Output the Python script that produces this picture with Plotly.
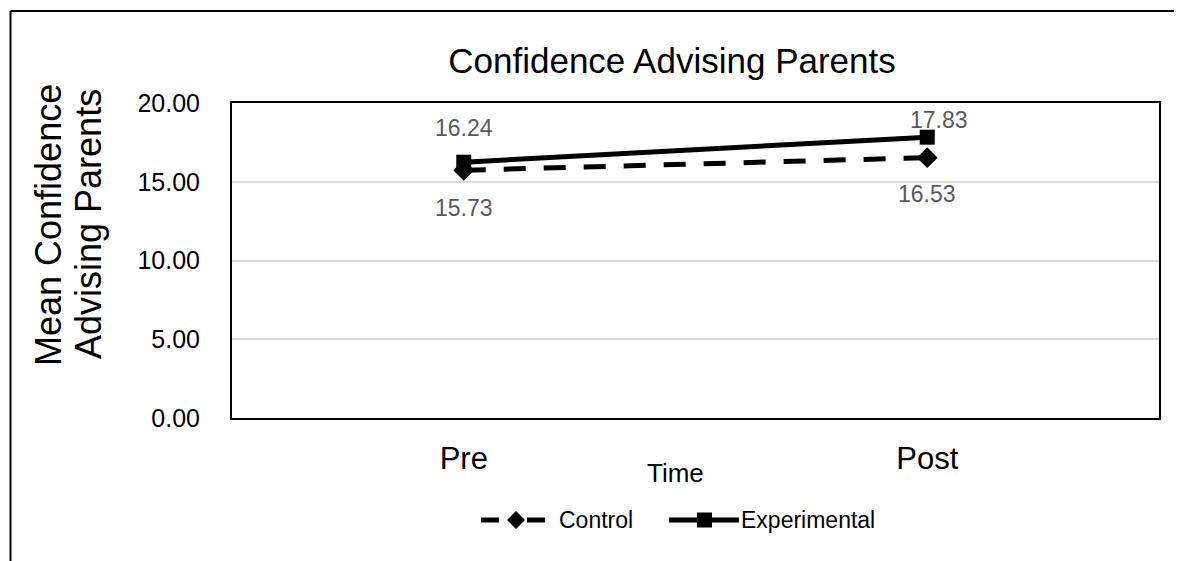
import plotly.graph_objects as go

categories = ["Pre", "Post"]
control = [15.73, 16.53]
experimental = [16.24, 17.83]
series_names = ["Control", "Experimental"]
y_ticks = [0, 5, 10, 15, 20]
y_tick_labels = ["0.00", "5.00", "10.00", "15.00", "20.00"]

FONT = "Liberation Sans, Arial, sans-serif"
OFF = 8  # page body margin offset
W, H = 1174, 553
L, T = 232 - OFF, 103 - OFF
RIGHT, BOTTOM = 1159 - OFF, 418 - OFF
R, B = W - RIGHT, H - BOTTOM
pw, ph = RIGHT - L, BOTTOM - T


def px(x):
    return (x - OFF - L) / pw


def py(y):
    return (BOTTOM - (y - OFF)) / ph


fig = go.Figure()
fig.add_trace(go.Scatter(
    x=categories, y=control, name=series_names[0], mode="lines+markers",
    line=dict(color="black", width=5, dash="22px,18px"),
    marker=dict(symbol="diamond", size=16, color="black"),
    showlegend=False,
))
fig.add_trace(go.Scatter(
    x=categories, y=experimental, name=series_names[1], mode="lines+markers",
    line=dict(color="black", width=5),
    marker=dict(symbol="square", size=15, color="black"),
    showlegend=False,
))

label_col = "#595959"
anns = []
exp_shift = [(0, 34), (12, 17)]
ctl_shift = [(0, -38), (0, -36)]
for (c, v), (dx, dy) in zip(zip(categories, experimental), exp_shift):
    anns.append(dict(x=c, y=v, xref="x", yref="y", text=f"{v:.2f}", showarrow=False,
                     xshift=dx, yshift=dy,
                     font=dict(family=FONT, size=23, color=label_col)))
for (c, v), (dx, dy) in zip(zip(categories, control), ctl_shift):
    anns.append(dict(x=c, y=v, xref="x", yref="y", text=f"{v:.2f}", showarrow=False,
                     xshift=dx, yshift=dy,
                     font=dict(family=FONT, size=23, color=label_col)))
# axis title "Time"
anns.append(dict(x=px(675), y=py(473), xref="paper", yref="paper", text="Time",
                 showarrow=False, xanchor="center", yanchor="middle",
                 font=dict(family=FONT, size=26, color="black")))
# y title (two lines)
anns.append(dict(x=px(48), y=py(225), xref="paper", yref="paper", text="Mean Confidence",
                 textangle=-90, showarrow=False, xanchor="center", yanchor="middle",
                 font=dict(family=FONT, size=36, color="black")))
anns.append(dict(x=px(88), y=py(224), xref="paper", yref="paper", text="Advising Parents",
                 textangle=-90, showarrow=False, xanchor="center", yanchor="middle",
                 font=dict(family=FONT, size=36, color="black")))

# custom legend (swatches + labels)
LEG_Y = 520
anns.append(dict(x=px(557), y=py(LEG_Y), xref="paper", yref="paper", text=series_names[0],
                 showarrow=False, xanchor="left", yanchor="middle",
                 font=dict(family=FONT, size=23, color="black")))
anns.append(dict(x=px(739), y=py(LEG_Y), xref="paper", yref="paper", text=series_names[1],
                 showarrow=False, xanchor="left", yanchor="middle",
                 font=dict(family=FONT, size=23, color="black")))

def seg(x0, x1, y, w=5):
    return dict(type="line", xref="paper", yref="paper", x0=px(x0), x1=px(x1),
                y0=py(y), y1=py(y), line=dict(color="black", width=w))

shapes = [
    dict(type="line", xref="paper", yref="paper", x0=px(10.5), x1=px(10.5),
         y0=py(11), y1=py(575), line=dict(color="black", width=2)),
    dict(type="line", xref="paper", yref="paper", x0=px(10.5), x1=px(1200),
         y0=py(11), y1=py(11), line=dict(color="black", width=2)),
    # Control swatch: dash, diamond, dash
    seg(481, 499, LEG_Y),
    seg(527, 545, LEG_Y),
    dict(type="path", xref="paper", yref="paper",
         path=(f"M {px(507)} {py(LEG_Y)} L {px(516)} {py(LEG_Y - 9)} "
               f"L {px(525)} {py(LEG_Y)} L {px(516)} {py(LEG_Y + 9)} Z"),
         fillcolor="black", line=dict(color="black", width=0)),
    # Experimental swatch: line with square
    seg(669, 739, LEG_Y),
    dict(type="rect", xref="paper", yref="paper", x0=px(697), x1=px(712),
         y0=py(LEG_Y + 7.5), y1=py(LEG_Y - 7.5), fillcolor="black",
         line=dict(color="black", width=0)),
]

fig.update_layout(
    width=W, height=H,
    margin=dict(l=L, r=R, t=T, b=B),
    paper_bgcolor="white", plot_bgcolor="white",
    font=dict(family=FONT, color="black"),
    showlegend=False,
    title=dict(text="Confidence Advising Parents", x=(672 - OFF) / W, xanchor="center",
               y=1 - (61 - OFF) / H, yanchor="middle",
               font=dict(family=FONT, size=35, color="black")),
    xaxis=dict(type="category", range=[-0.5, 1.5], showgrid=False, ticks="",
               showline=True, mirror=True, linecolor="black", linewidth=2,
               tickfont=dict(family=FONT, size=31, color="black"), ticklabelstandoff=12),
    yaxis=dict(range=[0, 20], tickvals=y_ticks, ticktext=y_tick_labels,
               showgrid=True, gridcolor="#d9d9d9", gridwidth=1.5,
               showline=True, mirror=True, linecolor="black", linewidth=2,
               zeroline=False, ticks="", ticklabelstandoff=25,
               tickfont=dict(family=FONT, size=25, color="black")),
    annotations=anns,
    shapes=shapes,
)

fig.write_html("out.html")
